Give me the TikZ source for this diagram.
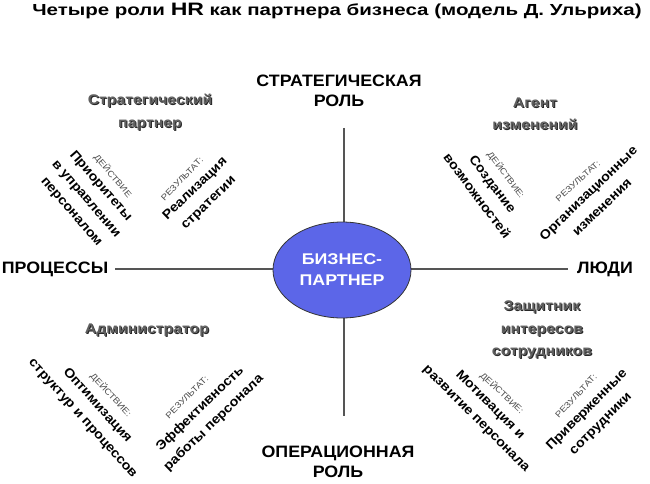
\documentclass[tikz,border=0pt]{standalone}
\usepackage{fontspec}
\setmainfont{Liberation Sans}
\usetikzlibrary{shapes.geometric}
\definecolor{bpfill}{RGB}{92,102,232}
\definecolor{rolegray}{RGB}{95,95,95}
\definecolor{axisline}{RGB}{85,85,85}
\tikzset{
  axislabel/.style={font=\fontsize{16.5}{20}\selectfont\bfseries, align=center, inner sep=0pt, xscale=1.08},
  roletitle/.style={font=\fontsize{14}{22.5}\selectfont\bfseries, align=center, text=rolegray, inner sep=0pt, xscale=1.13},
  roleshadow/.style={font=\fontsize{14}{22.5}\selectfont\bfseries, align=center, text=black!85, inner sep=0pt, xscale=1.13},
  smalllabel/.style={font=\fontsize{8.5}{9}\selectfont, text=black!70, inner sep=0pt},
  rottext/.style={font=\fontsize{13}{19.5}\selectfont\bfseries, align=center, inner sep=0pt},
  axis/.style={draw=axisline, line width=1.4pt},
}
\begin{document}
\begin{tikzpicture}[x=1pt,y=-1pt]
\useasboundingbox (0,0) rectangle (650,484);
% title
\node[inner sep=0pt, xscale=1.28, font=\fontsize{16}{19}\selectfont\bfseries] (title) at (337,11)
  {Четыре роли {\fontsize{18}{19}\selectfont HR} как партнера бизнеса (модель Д. Ульриха)};
% axes
\coordinate (axtop) at (344,128);
\coordinate (axbot) at (344,416);
\coordinate (axleft) at (115,269);
\coordinate (axright) at (568,269);
\draw[axis] (axtop) -- (axbot);
\draw[axis] (axleft) -- (axright);
% center ellipse
\node[ellipse, draw=black!80, line width=0.8pt, fill=bpfill, xscale=1.15, minimum width=120pt, minimum height=96pt, inner sep=0pt,
      text=white, align=center, font=\fontsize{15.5}{21}\selectfont\bfseries] (bp) at (342,270) {БИЗНЕС-\\ПАРТНЕР};
% axis labels
\node[axislabel] (strat) at (339,91) {СТРАТЕГИЧЕСКАЯ\\РОЛЬ};
\node[axislabel] (oper) at (338,462) {ОПЕРАЦИОННАЯ\\РОЛЬ};
\node[axislabel] (proc) at (55,269) {ПРОЦЕССЫ};
\node[axislabel] (people) at (605,269) {ЛЮДИ};
% role titles (with shadow)
\node[roleshadow] (r1s) at (151,113) {Стратегический\\партнер};
\node[roletitle] (r1) at (150,112) {Стратегический\\партнер};
\node[roleshadow] (r2s) at (536,115) {Агент\\изменений};
\node[roletitle] (r2) at (535,114) {Агент\\изменений};
\node[roleshadow] (r3s) at (148,331) {Администратор};
\node[roletitle] (r3) at (147,330) {Администратор};
\node[roleshadow] (r4s) at (543,331) {Защитник\\интересов\\сотрудников};
\node[roletitle] (r4) at (542,330) {Защитник\\интересов\\сотрудников};
% top-left
\node[smalllabel, rotate=-50, xscale=1.15] (a1) at (113,176) {ДЕЙСТВИЕ};
\node[rottext, rotate=-49, xscale=1.1] (a1t) at (86,199) {Приоритеты\\в управлении\\персоналом};
\node[smalllabel, rotate=46, xscale=1.15] (b1) at (182,179) {РЕЗУЛЬТАТ:};
\node[rottext, rotate=44, xscale=1.1] (b1t) at (202,196) {Реализация\\стратегии};
% top-right
\node[smalllabel, rotate=-53, xscale=1.15] (a2) at (506,175) {ДЕЙСТВИЕ:};
\node[rottext, rotate=-53, xscale=1.1] (a2t) at (485,190) {Создание\\возможностей};
\node[smalllabel, rotate=42, xscale=1.15] (b2) at (578,181) {РЕЗУЛЬТАТ:};
\node[rottext, rotate=44, xscale=1.1] (b2t) at (595,200) {Организационные\\изменения};
% bottom-left
\node[smalllabel, rotate=-47, xscale=1.15] (a3) at (111,395) {ДЕЙСТВИЕ:};
\node[rottext, rotate=-48, xscale=1.1] (a3t) at (90,412) {Оптимизация\\структур и процессов};
\node[smalllabel, rotate=45, xscale=1.15] (b3) at (187,397) {РЕЗУЛЬТАТ:};
\node[rottext, rotate=44, xscale=1.1] (b3t) at (207,416) {Эффективность\\работы персонала};
% bottom-right
\node[smalllabel, rotate=-43, xscale=1.15] (a4) at (502,393) {ДЕЙСТВИЕ:};
\node[rottext, rotate=-45, xscale=1.1] (a4t) at (483,412) {Мотивация и\\развитие персонала};
\node[smalllabel, rotate=47, xscale=1.15] (b4) at (576,396) {РЕЗУЛЬТАТ:};
\node[rottext, rotate=45, xscale=1.1] (b4t) at (594,417) {Приверженные\\сотрудники};
\end{tikzpicture}
\end{document}
